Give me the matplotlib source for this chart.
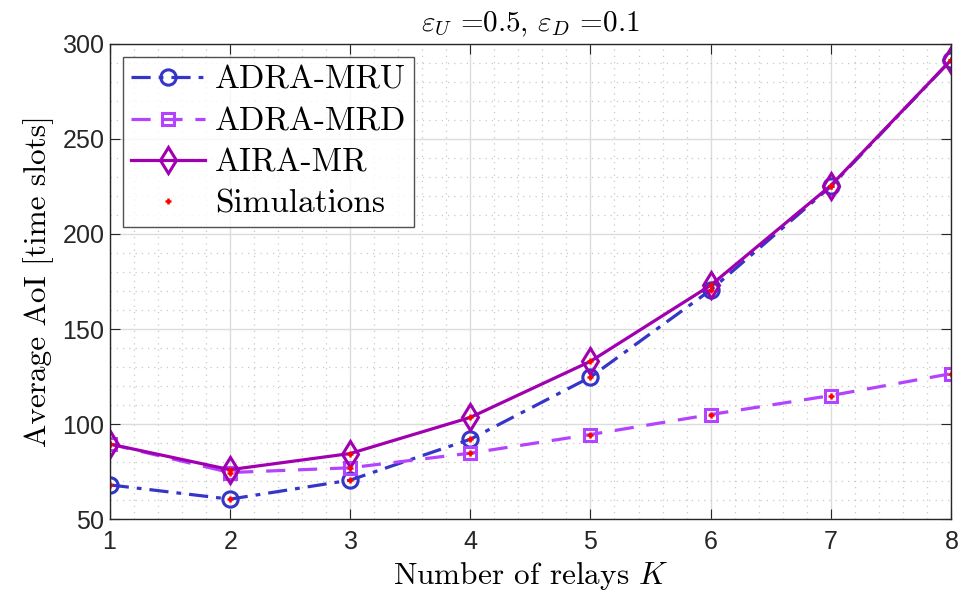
import matplotlib
matplotlib.use('Agg')
import matplotlib.pyplot as plt
from matplotlib.ticker import MultipleLocator

# data
relays = [1, 2, 3, 4, 5, 6, 7, 8]
adra_mru = [68, 60.5, 70.5, 92, 124.7, 170.5, 225, 291.5]
adra_mrd = [89.5, 74.5, 77, 84.7, 94.5, 105, 115, 126.5]
aira_mr = [89.5, 76, 84.5, 103.5, 133, 173, 225.5, 291.5]

plt.rcParams['font.family'] = 'serif'
plt.rcParams['font.serif'] = ['cmr10']
plt.rcParams['mathtext.fontset'] = 'cm'
plt.rcParams['axes.formatter.use_mathtext'] = True

fig = plt.figure(figsize=(9.63, 6.10), dpi=100)
ax = fig.add_axes([0.114, 0.149, 0.8735, 0.779])

c_mru = '#3535C8'
c_mrd = '#B443FF'
c_aira = '#A000B0'

ax.plot(relays, adra_mru, color=c_mru, linestyle=(0, (6, 2.5, 1.5, 2.5)), linewidth=2.3,
        marker='o', markersize=11, markerfacecolor='none', markeredgewidth=2.2, label='ADRA-MRU')
ax.plot(relays, adra_mrd, color=c_mrd, linestyle=(0, (6, 4)), linewidth=2.3,
        marker='s', markersize=9, markerfacecolor='none', markeredgewidth=2.2, label='ADRA-MRD')
ax.plot(relays, aira_mr, color=c_aira, linestyle='-', linewidth=2.3,
        marker='d', markersize=13, markerfacecolor='none', markeredgewidth=2.2, label='AIRA-MR')
# simulation points on every curve
sim_x = relays * 3
sim_y = adra_mru + adra_mrd + aira_mr
ax.plot(sim_x, sim_y, linestyle='none', marker='+', color='red', markersize=5,
        markeredgewidth=1.8, label='Simulations')

ax.set_xlim(1, 8)
ax.set_ylim(50, 300)
ax.xaxis.set_major_locator(MultipleLocator(1))
ax.xaxis.set_minor_locator(MultipleLocator(0.2))
ax.yaxis.set_major_locator(MultipleLocator(50))
ax.yaxis.set_minor_locator(MultipleLocator(10))

ax.grid(which='major', color='#DCDCDC', linewidth=1.0)
ax.grid(which='minor', color='#C8C8C8', linestyle=(0, (1, 4)), linewidth=0.9)
ax.set_axisbelow(True)

for s in ax.spines.values():
    s.set_color('#262626')
    s.set_linewidth(1.0)
ax.tick_params(which='both', direction='in', top=True, right=True, colors='#262626')
ax.tick_params(which='major', length=7, labelsize=18)
ax.tick_params(which='minor', length=0)
for lab in ax.get_xticklabels() + ax.get_yticklabels():
    lab.set_family('Liberation Sans')
ax.tick_params(axis='x', pad=8)

ax.set_xlabel('Number of relays $K$', fontsize=22.5, labelpad=4)
ax.set_ylabel('Average AoI [time slots]', fontsize=22.5, labelpad=6)
ax.set_title(r'$\varepsilon_U$ =0.5, $\varepsilon_D$ =0.1', fontsize=21, pad=9)

leg = ax.legend(loc='upper left', fontsize=24, frameon=True, fancybox=False,
                edgecolor='#262626', handlelength=2.2, borderpad=0.25,
                labelspacing=0.36, handletextpad=0.3, borderaxespad=0.4)
leg.get_frame().set_linewidth(1.0)

fig.savefig('out.png', dpi=100)
